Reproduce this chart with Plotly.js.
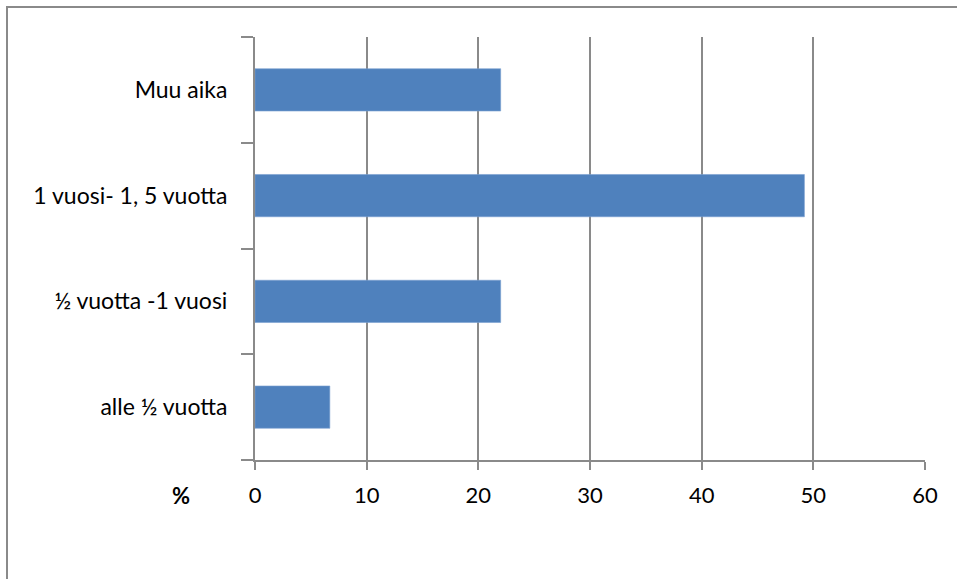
<!DOCTYPE html>
<html>
<head>
<meta charset="utf-8">
<script src="https://cdn.plot.ly/plotly-3.0.1.min.js"></script>
<style>
html,body{margin:0;padding:0;background:#fff;}
#chart{width:957px;height:579px;}
</style>
</head>
<body>
<div id="chart"></div>
<script>
const categories = ["alle ½ vuotta", "½ vuotta -1 vuosi", "1 vuosi- 1, 5 vuotta", "Muu aika"];
const values = [6.7, 22, 49.2, 22];
const xTicks = [0, 10, 20, 30, 40, 50, 60];

const L = 255, R = 957 - 925, T = 37, B = 579 - 460;
const pw = 957 - L - R, ph = 579 - T - B;
const px = v => (v - L) / pw;
const py = v => (579 - B - v) / ph;

const data = [{
  type: "bar",
  orientation: "h",
  y: categories,
  x: values,
  marker: {color: "#4F81BD", line: {color: "#7a9fd0", width: 0.6}},
  hoverinfo: "x+y"
}];

const gridC = "#8a8a8a";
const layout = {
  width: 957, height: 579,
  margin: {l: L, r: R, t: T, b: B},
  paper_bgcolor: "#fff", plot_bgcolor: "#fff",
  font: {family: "Lato, 'Open Sans', sans-serif", size: 23, color: "#000"},
  bargap: 0.6,
  showlegend: false,
  xaxis: {
    range: [0, 60], tickvals: xTicks, ticktext: xTicks.map(String),
    showgrid: true, gridcolor: gridC, gridwidth: 2,
    zeroline: false, showline: true, linecolor: gridC, linewidth: 2,
    ticks: "outside", ticklen: 8, tickcolor: gridC, tickwidth: 2,
    ticklabelstandoff: 7,
    tickfont: {size: 22, color: "#000"},
    fixedrange: true
  },
  yaxis: {
    type: "category", categoryorder: "array", categoryarray: categories,
    showgrid: false, zeroline: false,
    showline: true, linecolor: gridC, linewidth: 2,
    ticks: "outside", ticklen: 12, tickcolor: gridC, tickwidth: 2,
    tickson: "boundaries",
    ticklabelstandoff: 21,
    tickfont: {size: 23, color: "#000"},
    fixedrange: true
  },
  annotations: [{
    xref: "paper", yref: "paper", x: px(181), y: py(496),
    text: "<b>%</b>", showarrow: false, xanchor: "center", yanchor: "middle",
    font: {size: 22, color: "#000"}
  }],
  shapes: [{
    type: "rect", xref: "paper", yref: "paper",
    x0: px(7), x1: px(975), y0: py(595), y1: py(7),
    line: {color: gridC, width: 2}, fillcolor: "rgba(0,0,0,0)", layer: "below"
  }]
};

Plotly.newPlot("chart", data, layout, {displayModeBar: false, staticPlot: true});
</script>
</body>
</html>
